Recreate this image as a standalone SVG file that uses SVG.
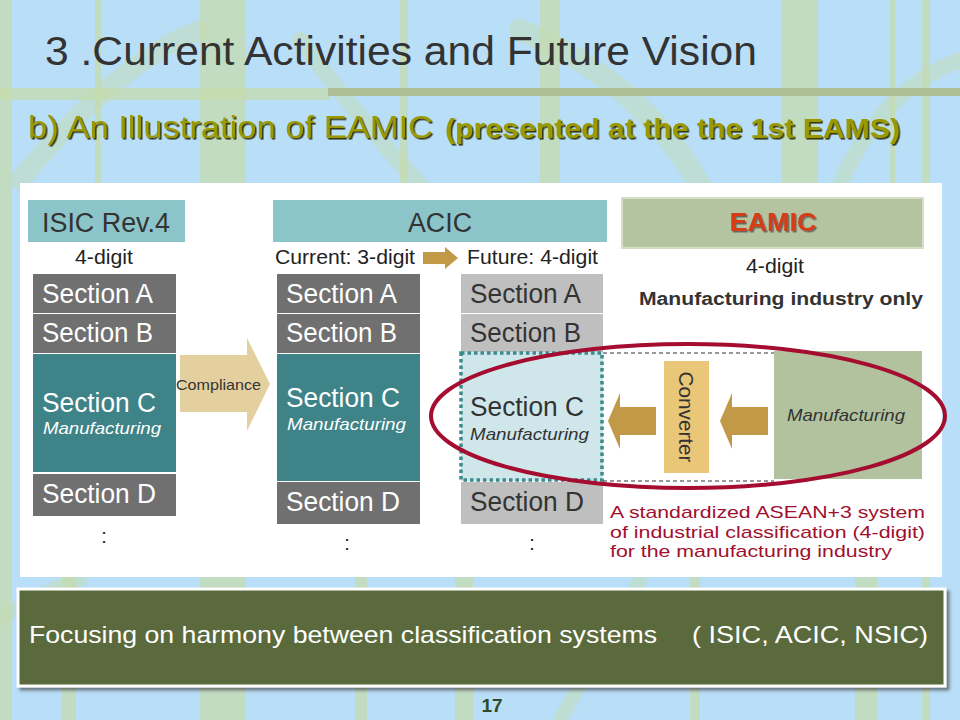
<svg xmlns="http://www.w3.org/2000/svg" width="960" height="720" viewBox="0 0 960 720">
<defs>
<style>
text{font-family:"Liberation Sans",Arial,sans-serif}
.bam{fill:#c6dcaa;opacity:.7}
.leaf{fill:none;stroke:#c6dcaa;opacity:.45;stroke-linecap:round}
.hdr{fill:#8cc5c9}
.hdrt{font-size:27px;fill:#333;text-anchor:middle}
.lbl{font-size:20px;fill:#222}
.dk{fill:#707070}
.tl{fill:#3e8387}
.lg{fill:#bfbfbf}
.sw{font-size:27px;fill:#fff}
.sd{font-size:27px;fill:#333}
.mw{font-size:17px;fill:#fff;font-style:italic}
.md{font-size:17px;fill:#333;font-style:italic}
.col{font-size:20px;fill:#222;text-anchor:middle}
.garr{fill:#c29a47}
.red{font-size:17px;fill:#a0102e}
</style>
<filter id="sh" x="-5%" y="-20%" width="110%" height="150%">
<feDropShadow dx="1.6" dy="1.6" stdDeviation="0.4" flood-color="#2a2a00" flood-opacity="0.9"/>
</filter>
<filter id="sh2" x="-5%" y="-20%" width="110%" height="150%">
<feDropShadow dx="1.5" dy="1.5" stdDeviation="0.6" flood-color="#555" flood-opacity="0.8"/>
</filter>
<filter id="boxsh" x="-2%" y="-5%" width="105%" height="115%">
<feDropShadow dx="3" dy="3" stdDeviation="1.5" flood-color="#333" flood-opacity="0.6"/>
</filter>
</defs>

<g id="background">
<rect x="0" y="0" width="960" height="720" fill="#b9def8"/>
<rect class="bam" x="0" y="0" width="12" height="720"/>
<rect class="bam" x="200" y="0" width="46" height="720"/>
<rect class="bam" x="95" y="0" width="6" height="190"/>
<rect class="bam" x="400" y="0" width="8" height="190"/>
<rect class="bam" x="782" y="0" width="36" height="190"/>
<rect class="bam" x="890" y="0" width="5" height="190"/>
<rect class="bam" x="922" y="0" width="8" height="720"/>
<rect class="bam" x="540" y="0" width="20" height="190"/>
<rect class="bam" x="0" y="88" width="330" height="12"/>
<rect class="bam" x="62" y="577" width="14" height="143"/>
<rect class="bam" x="355" y="577" width="12" height="143"/>
<rect class="bam" x="455" y="577" width="18" height="143"/>
<rect class="bam" x="690" y="577" width="10" height="143"/>
<rect class="bam" x="855" y="577" width="22" height="143"/>
<path class="leaf" stroke-width="20" d="M20 180 Q120 60 200 30"/>
<path class="leaf" stroke-width="16" d="M300 40 Q360 120 420 185"/>
<path class="leaf" stroke-width="22" d="M520 30 Q640 80 700 185"/>
<path class="leaf" stroke-width="16" d="M840 185 Q880 90 960 60"/>
<path class="leaf" stroke-width="14" d="M0 620 Q40 590 80 580"/>
<path class="leaf" stroke-width="14" d="M560 720 Q600 650 640 580"/>
<rect x="328" y="88" width="632" height="8" fill="#adbd94"/>
</g>

<g id="title">
<text x="45" y="65" font-size="40" fill="#333" textLength="712" lengthAdjust="spacingAndGlyphs">3 .Current Activities and Future Vision</text>
<g filter="url(#sh)">
<text x="28" y="138" font-size="32" fill="#9a9a00" textLength="405" lengthAdjust="spacingAndGlyphs">b) An Illustration of EAMIC</text>
<text x="445" y="138" font-size="27" font-weight="bold" fill="#9a9a00" textLength="455" lengthAdjust="spacingAndGlyphs">(presented at the the 1st EAMS)</text>
</g>
</g>

<rect id="panel" x="20" y="183" width="922" height="394" fill="#ffffff"/>

<g id="isic">
<rect class="hdr" x="28" y="200" width="157" height="42"/>
<text class="hdrt" x="106" y="232" textLength="128" lengthAdjust="spacingAndGlyphs">ISIC Rev.4</text>
<text class="lbl" x="104" y="264" text-anchor="middle" textLength="58" lengthAdjust="spacingAndGlyphs">4-digit</text>
<rect class="dk" x="33" y="274" width="143" height="39"/>
<text class="sw" x="42" y="303" textLength="111" lengthAdjust="spacingAndGlyphs">Section A</text>
<rect class="dk" x="33" y="314" width="143" height="39"/>
<text class="sw" x="42" y="342" textLength="111" lengthAdjust="spacingAndGlyphs">Section B</text>
<rect class="tl" x="33" y="354" width="143" height="118"/>
<text class="sw" x="42" y="412" textLength="114" lengthAdjust="spacingAndGlyphs">Section C</text>
<text class="mw" x="43" y="434" textLength="118" lengthAdjust="spacingAndGlyphs">Manufacturing</text>
<rect class="dk" x="33" y="474" width="143" height="42"/>
<text class="sw" x="42" y="503" textLength="114" lengthAdjust="spacingAndGlyphs">Section D</text>
<text class="col" x="104" y="543">:</text>
</g>

<g id="acic">
<rect class="hdr" x="273" y="200" width="334" height="42"/>
<text class="hdrt" x="440" y="232" textLength="64" lengthAdjust="spacingAndGlyphs">ACIC</text>
<text class="lbl" x="275" y="264" textLength="140" lengthAdjust="spacingAndGlyphs">Current: 3-digit</text>
<text class="lbl" x="467" y="264" textLength="131" lengthAdjust="spacingAndGlyphs">Future: 4-digit</text>
</g>

<g id="acic-current">
<rect class="dk" x="277" y="274" width="143" height="39"/>
<text class="sw" x="286" y="303" textLength="111" lengthAdjust="spacingAndGlyphs">Section A</text>
<rect class="dk" x="277" y="314" width="143" height="39"/>
<text class="sw" x="286" y="342" textLength="111" lengthAdjust="spacingAndGlyphs">Section B</text>
<rect class="tl" x="277" y="354" width="143" height="127"/>
<text class="sw" x="286" y="407" textLength="114" lengthAdjust="spacingAndGlyphs">Section C</text>
<text class="mw" x="287" y="430" textLength="119" lengthAdjust="spacingAndGlyphs">Manufacturing</text>
<rect class="dk" x="277" y="482" width="143" height="42"/>
<text class="sw" x="286" y="511" textLength="114" lengthAdjust="spacingAndGlyphs">Section D</text>
<text class="col" x="347" y="550">:</text>
</g>

<g id="acic-future">
<rect class="lg" x="461" y="274" width="142" height="39"/>
<text class="sd" x="470" y="303" textLength="111" lengthAdjust="spacingAndGlyphs">Section A</text>
<rect class="lg" x="461" y="314" width="142" height="38"/>
<text class="sd" x="470" y="342" textLength="111" lengthAdjust="spacingAndGlyphs">Section B</text>
<rect x="461" y="352" width="142" height="129" fill="#cfe6ea"/>
<rect x="461" y="353" width="141" height="127" fill="none" stroke="#3c8a8c" stroke-width="3.5" stroke-dasharray="3.5 3"/>
<text class="sd" x="470" y="416" textLength="114" lengthAdjust="spacingAndGlyphs">Section C</text>
<text class="md" x="470" y="440" textLength="119" lengthAdjust="spacingAndGlyphs">Manufacturing</text>
<rect class="lg" x="461" y="482" width="142" height="42"/>
<text class="sd" x="470" y="511" textLength="114" lengthAdjust="spacingAndGlyphs">Section D</text>
<text class="col" x="532" y="550">:</text>
</g>

<g id="eamic">
<rect x="622" y="198" width="301" height="50" fill="#b4c3a0" stroke="#d6dfc6" stroke-width="2"/>
<text x="773" y="231" font-size="25" font-weight="bold" fill="#d43d12" text-anchor="middle" filter="url(#sh2)" textLength="87" lengthAdjust="spacingAndGlyphs">EAMIC</text>
<text class="lbl" x="775" y="273" text-anchor="middle" textLength="58" lengthAdjust="spacingAndGlyphs">4-digit</text>
<text x="639" y="305" font-size="18" font-weight="bold" fill="#333" textLength="284" lengthAdjust="spacingAndGlyphs">Manufacturing industry only</text>
</g>

<g id="eamic-manufacturing">
<rect x="774" y="351" width="148" height="128" fill="#b2c29e"/>
<text class="md" x="787" y="421" textLength="118" lengthAdjust="spacingAndGlyphs">Manufacturing</text>
</g>

<g id="converter">
<rect x="664" y="361" width="45" height="112" fill="#eac678"/>
<text x="686" y="424" font-size="20" fill="#333" text-anchor="middle" transform="rotate(90 686 417)" textLength="91" lengthAdjust="spacingAndGlyphs">Converter</text>
</g>

<g id="connectors">
<polygon points="180,355 247,355 247,338 270,384 247,431 247,412 180,412" fill="#e4d09f"/>
<text x="176" y="390" font-size="15" fill="#333" textLength="85" lengthAdjust="spacingAndGlyphs">Compliance</text>
<polygon class="garr" points="423,252 445,252 445,247 458,258 445,269 445,264 423,264"/>
<polygon class="garr" points="608,421 620,393 620,407 656,407 656,435 620,435 620,449"/>
<polygon class="garr" points="720,421 732,393 732,407 768,407 768,435 732,435 732,449"/>
<line x1="603" y1="353" x2="774" y2="353" stroke="#333" stroke-width="1" stroke-dasharray="4 3"/>
<line x1="603" y1="481" x2="774" y2="481" stroke="#333" stroke-width="1" stroke-dasharray="4 3"/>
<ellipse cx="688" cy="416" rx="257" ry="72" fill="none" stroke="#a50d30" stroke-width="4"/>
</g>

<g id="note">
<text class="red" x="610" y="518" textLength="315" lengthAdjust="spacingAndGlyphs">A standardized ASEAN+3 system</text>
<text class="red" x="610" y="538" textLength="315" lengthAdjust="spacingAndGlyphs">of industrial classification (4-digit)</text>
<text class="red" x="610" y="557" textLength="282" lengthAdjust="spacingAndGlyphs">for the manufacturing industry</text>
</g>

<g id="footer">
<rect x="18" y="589" width="927" height="97" fill="#5a6a3e" stroke="#ffffff" stroke-width="3" filter="url(#boxsh)"/>
<text x="29" y="643" font-size="24" fill="#ffffff" textLength="628" lengthAdjust="spacingAndGlyphs">Focusing on harmony between classification systems</text>
<text x="692" y="643" font-size="24" fill="#ffffff" textLength="236" lengthAdjust="spacingAndGlyphs">( ISIC, ACIC, NSIC)</text>
<text x="492" y="712" font-size="19" font-weight="bold" fill="#2d4a2a" text-anchor="middle">17</text>
</g>
</svg>
